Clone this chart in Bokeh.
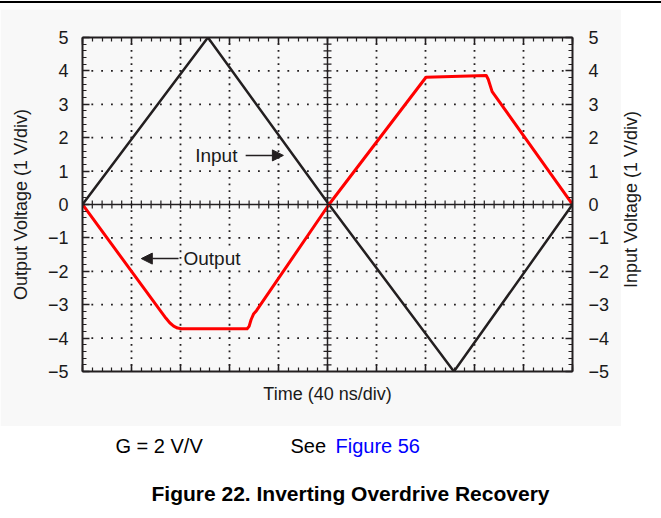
import numpy as np
from bokeh.plotting import figure
from bokeh.layouts import column, row
from bokeh.models import (Range1d, FixedTicker, LinearAxis, Label, Arrow, NormalHead, Span, Div)
from bokeh.core.properties import value
from bokeh.embed import file_html
from bokeh.resources import INLINE

# ---- data ----
time_in = [0, 2.56, 5.03, 7.58, 10]
v_in = [0, 5, 0, -5, 0]

time_out = [0, 1.70, 1.78, 1.86, 1.94, 2.02, 3.36, 3.40, 3.44, 3.49, 3.55, 5.03,
            7.01, 8.24, 8.28, 8.36, 10]
v_out = [0, -3.40, -3.54, -3.64, -3.70, -3.72, -3.72, -3.65, -3.45, -3.28, -3.18, 0,
         3.81, 3.86, 3.75, 3.38, 0]

y_ticks = [-5, -4, -3, -2, -1, 0, 1, 2, 3, 4, 5]
y_tick_labels = ["\u22125", "\u22124", "\u22123", "\u22122", "\u22121", "0", "1", "2", "3", "4", "5"]
x_ticks = [0, 1, 2, 3, 4, 5, 6, 7, 8, 9, 10]

FONT = "Liberation Sans"
PANEL = "#f8f8f8"
INK = "#231f20"
TXT = "#1a1a1a"

# ---------- thin rule at the very top ----------
rule = Div(text="", width=661, height=2, margin=(1, 0, 6, 0),
           styles={"background-color": "black"})

# ---------- main chart ----------
p = figure(width=621, height=417, output_backend="svg", toolbar_location=None,
           x_range=Range1d(0, 10), y_range=Range1d(-5, 5),
           min_border_left=82, min_border_right=49, min_border_top=28, min_border_bottom=55,
           background_fill_color=PANEL, border_fill_color=PANEL, outline_line_color=None)
p.xgrid.visible = False
p.ygrid.visible = False

overrides = {float(t): l for t, l in zip(y_ticks, y_tick_labels)}
minor_y = [round(v, 1) for v in np.arange(-5, 5.01, 0.2)]
minor_x = [round(v, 1) for v in np.arange(0, 10.01, 0.2)]


def style_axis(ax, labels):
    ax.axis_line_width = 2
    ax.axis_line_color = INK
    ax.major_tick_in = 7
    ax.major_tick_out = 0
    ax.minor_tick_in = 4
    ax.minor_tick_out = 0
    ax.major_tick_line_width = 1.5
    ax.minor_tick_line_width = 1.2
    ax.major_tick_line_color = INK
    ax.minor_tick_line_color = INK
    ax.axis_label_text_font = FONT
    ax.axis_label_text_font_size = "18px"
    ax.axis_label_text_font_style = "normal"
    ax.axis_label_text_color = TXT
    if labels:
        ax.major_label_text_font = FONT
        ax.major_label_text_font_size = "18px"
        ax.major_label_text_color = TXT
        ax.major_label_standoff = 14
    else:
        ax.major_label_text_color = None
        ax.major_label_text_font_size = "1px"
        ax.major_label_standoff = 0


# left axis
p.yaxis.ticker = FixedTicker(ticks=y_ticks, minor_ticks=minor_y)
p.yaxis.major_label_overrides = overrides
style_axis(p.yaxis[0], True)
p.yaxis.axis_label = "Output Voltage (1 V/div)"
p.yaxis.axis_label_standoff = 14
# right axis
ra = LinearAxis(ticker=FixedTicker(ticks=y_ticks, minor_ticks=minor_y),
                major_label_overrides=overrides)
style_axis(ra, True)
ra.major_label_standoff = 16
p.add_layout(ra, "right")
# bottom axis
p.xaxis.ticker = FixedTicker(ticks=x_ticks, minor_ticks=minor_x)
style_axis(p.xaxis[0], False)
p.xaxis.axis_label = "Time (40 ns/div)"
p.xaxis.axis_label_standoff = 12
# top axis
ta = LinearAxis(ticker=FixedTicker(ticks=x_ticks, minor_ticks=minor_x))
style_axis(ta, False)
p.add_layout(ta, "above")

# dotted grid (dots at the minor-tick positions)
gx, gy = [], []
for xv in x_ticks[1:-1]:
    if xv == 5:
        continue
    for yv in minor_y[1:-1]:
        gx.append(xv); gy.append(yv)
for yv in y_ticks[1:-1]:
    if yv == 0:
        continue
    for xv in minor_x[1:-1]:
        gx.append(xv); gy.append(yv)
p.scatter(gx, gy, marker="square", size=1.8, color=INK, line_color=None)

# solid centre lines with ticks
p.add_layout(Span(location=0, dimension="width", line_color=INK, line_width=1.5))
p.add_layout(Span(location=5, dimension="height", line_color=INK, line_width=1.5))
p.scatter(minor_x[1:-1], [0] * len(minor_x[1:-1]), marker="dash", angle=np.pi / 2,
          size=8, line_color=INK, line_width=1.2)
p.scatter([5] * len(minor_y[1:-1]), minor_y[1:-1], marker="dash",
          size=8, line_color=INK, line_width=1.2)

# traces
p.line(time_in, v_in, line_color=INK, line_width=2.5)
p.line(time_out, v_out, line_color="#ff0000", line_width=3, line_join="round")

# in-plot annotations
p.add_layout(Label(x=2.3, y=1.47, text="Input", text_font=FONT, text_font_size="19px",
                   text_color=TXT, text_baseline="middle", text_align="left",
                   background_fill_color=PANEL))
p.add_layout(Arrow(x_start=3.33, y_start=1.47, x_end=4.1, y_end=1.47, line_width=1.5,
                   line_color=INK,
                   end=NormalHead(size=11, fill_color=INK, line_color=INK, line_width=1)))
p.add_layout(Label(x=2.06, y=-1.62, text="Output", text_font=FONT, text_font_size="19px",
                   text_color=TXT, text_baseline="middle", text_align="left",
                   background_fill_color=PANEL))
p.add_layout(Arrow(x_start=1.96, y_start=-1.62, x_end=1.2, y_end=-1.62, line_width=1.5,
                   line_color=INK,
                   end=NormalHead(size=11, fill_color=INK, line_color=INK, line_width=1)))

# ---------- right-hand title strip (page x 621..661) ----------
p_right = figure(width=40, height=417, x_range=Range1d(0, 40), y_range=Range1d(-5, 5),
                 x_axis_type=None, y_axis_type=None, output_backend="svg",
                 toolbar_location=None, min_border=0, outline_line_color=None,
                 background_fill_color="white", border_fill_color="white")
p_right.grid.visible = False
p_right.text(x=[9], y=[0.15], text=["Input Voltage (1 V/div)"], angle=np.pi / 2,
             text_font=value(FONT), text_font_size="18px", text_color=TXT,
             text_baseline="middle", text_align="center")

# ---------- caption area (page x 0..661) ----------
p2 = figure(width=661, height=90, x_range=Range1d(0, 661), y_range=Range1d(90, 0),
            x_axis_type=None, y_axis_type=None, output_backend="svg",
            toolbar_location=None, min_border=0, outline_line_color=None,
            background_fill_color="white", border_fill_color="white")
p2.grid.visible = False
p2.text(x=[115], y=[19], text=["G = 2 V/V"], text_font=value(FONT), text_font_size="20px",
        text_color="black", text_baseline="middle", text_align="left")
p2.text(x=[290], y=[19], text=["See"], text_font=value(FONT), text_font_size="20px",
        text_color="black", text_baseline="middle", text_align="left")
p2.text(x=[335], y=[19], text=["Figure 56"], text_font=value(FONT), text_font_size="20px",
        text_color="#0000ff", text_baseline="middle", text_align="left")
p2.text(x=[350], y=[67], text=["Figure 22. Inverting Overdrive Recovery"],
        text_font=value(FONT), text_font_size="21px", text_font_style="bold",
        text_color="black", text_baseline="middle", text_align="center")

layout = column(rule, row(p, p_right, spacing=0), p2, spacing=0)
open("out.html", "w").write(file_html(layout, INLINE))
